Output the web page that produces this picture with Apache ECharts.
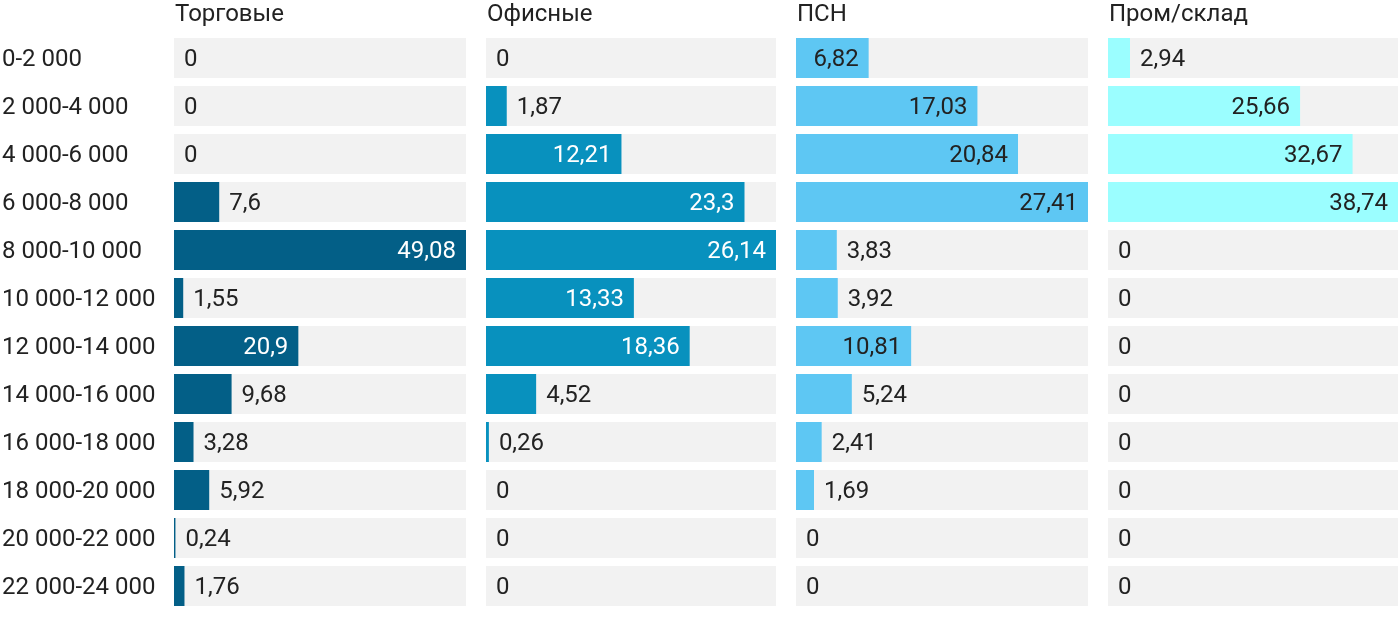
<!DOCTYPE html>
<html>
<head>
<meta charset="utf-8">
<script src="https://cdn.jsdelivr.net/npm/echarts@6/dist/echarts.min.js"></script>
<style>
  html, body { margin: 0; padding: 0; background: #fff; }
  #chart { width: 1400px; height: 622px; }
</style>
</head>
<body>
<div id="chart"></div>
<script>
const categories = ['0-2 000', '2 000-4 000', '4 000-6 000', '6 000-8 000', '8 000-10 000', '10 000-12 000',
  '12 000-14 000', '14 000-16 000', '16 000-18 000', '18 000-20 000', '20 000-22 000', '22 000-24 000']
const panelTitles = ['Торговые', 'Офисные', 'ПСН', 'Пром/склад']
const trade = [0, 0, 0, 7.6, 49.08, 1.55, 20.9, 9.68, 3.28, 5.92, 0.24, 1.76]
const office = [0, 1.87, 12.21, 23.3, 26.14, 13.33, 18.36, 4.52, 0.26, 0, 0, 0]
const psn = [6.82, 17.03, 20.84, 27.41, 3.83, 3.92, 10.81, 5.24, 2.41, 1.69, 0, 0]
const warehouse = [2.94, 25.66, 32.67, 38.74, 0, 0, 0, 0, 0, 0, 0, 0]

const seriesData = [trade, office, psn, warehouse]
const colors = ['#035F87', '#0891BE', '#5EC7F3', '#9BFEFF']
const insideText = ['#ffffff', '#ffffff', '#222222', '#222222']
const panels = [
  { left: 174, width: 292 },
  { left: 486, width: 290 },
  { left: 796, width: 292 },
  { left: 1108, width: 290 },
]
const FONT = 'Roboto, "Noto Sans", sans-serif'
const FS = 24
const fmt = v => String(v).replace('.', ',')

const option = {
  animation: false,
  textStyle: { fontFamily: FONT },
  title: panelTitles.map((t, i) => ({
    text: t,
    left: panels[i].left + 1,
    top: 3,
    padding: 0,
    textStyle: { fontFamily: FONT, fontSize: FS, fontWeight: 'normal', color: '#222' },
  })),
  grid: panels.map(p => ({
    left: p.left, width: p.width, top: 34, height: 576,
    outerBoundsMode: 'none', containLabel: false,
  })),
  xAxis: seriesData.map((d, i) => ({
    type: 'value',
    gridIndex: i,
    min: 0,
    max: Math.max(...d),
    show: false,
  })),
  yAxis: seriesData.map((d, i) => ({
    type: 'category',
    gridIndex: i,
    inverse: true,
    data: categories,
    axisLine: { show: false },
    axisTick: { show: false },
    splitLine: { show: false },
    axisLabel: {
      show: i === 0,
      align: 'left',
      margin: 172,
      formatter: v => '{c|' + v + '}',
      rich: {
        c: { fontFamily: FONT, fontSize: FS, color: '#222', padding: [4, 0, 0, 0] },
      },
    },
  })),
  series: seriesData.map((d, i) => {
    const max = Math.max(...d)
    return {
      type: 'bar',
      xAxisIndex: i,
      yAxisIndex: i,
      barWidth: 40,
      showBackground: true,
      backgroundStyle: { color: '#F2F2F2' },
      itemStyle: { color: colors[i] },
      data: d.map(v => {
        const inside = (v / max) * panels[i].width >= 64
        return {
          value: v,
          label: {
            show: true,
            position: inside ? 'insideRight' : 'right',
            distance: 10,
            color: inside ? insideText[i] : '#222',
          },
        }
      }),
      label: {
        show: true,
        fontFamily: FONT,
        fontSize: FS,
        offset: [0, 2],
        formatter: p => fmt(p.value),
      },
    }
  }),
}

const chart = echarts.init(document.getElementById('chart'))
chart.setOption(option)
</script>
</body>
</html>
